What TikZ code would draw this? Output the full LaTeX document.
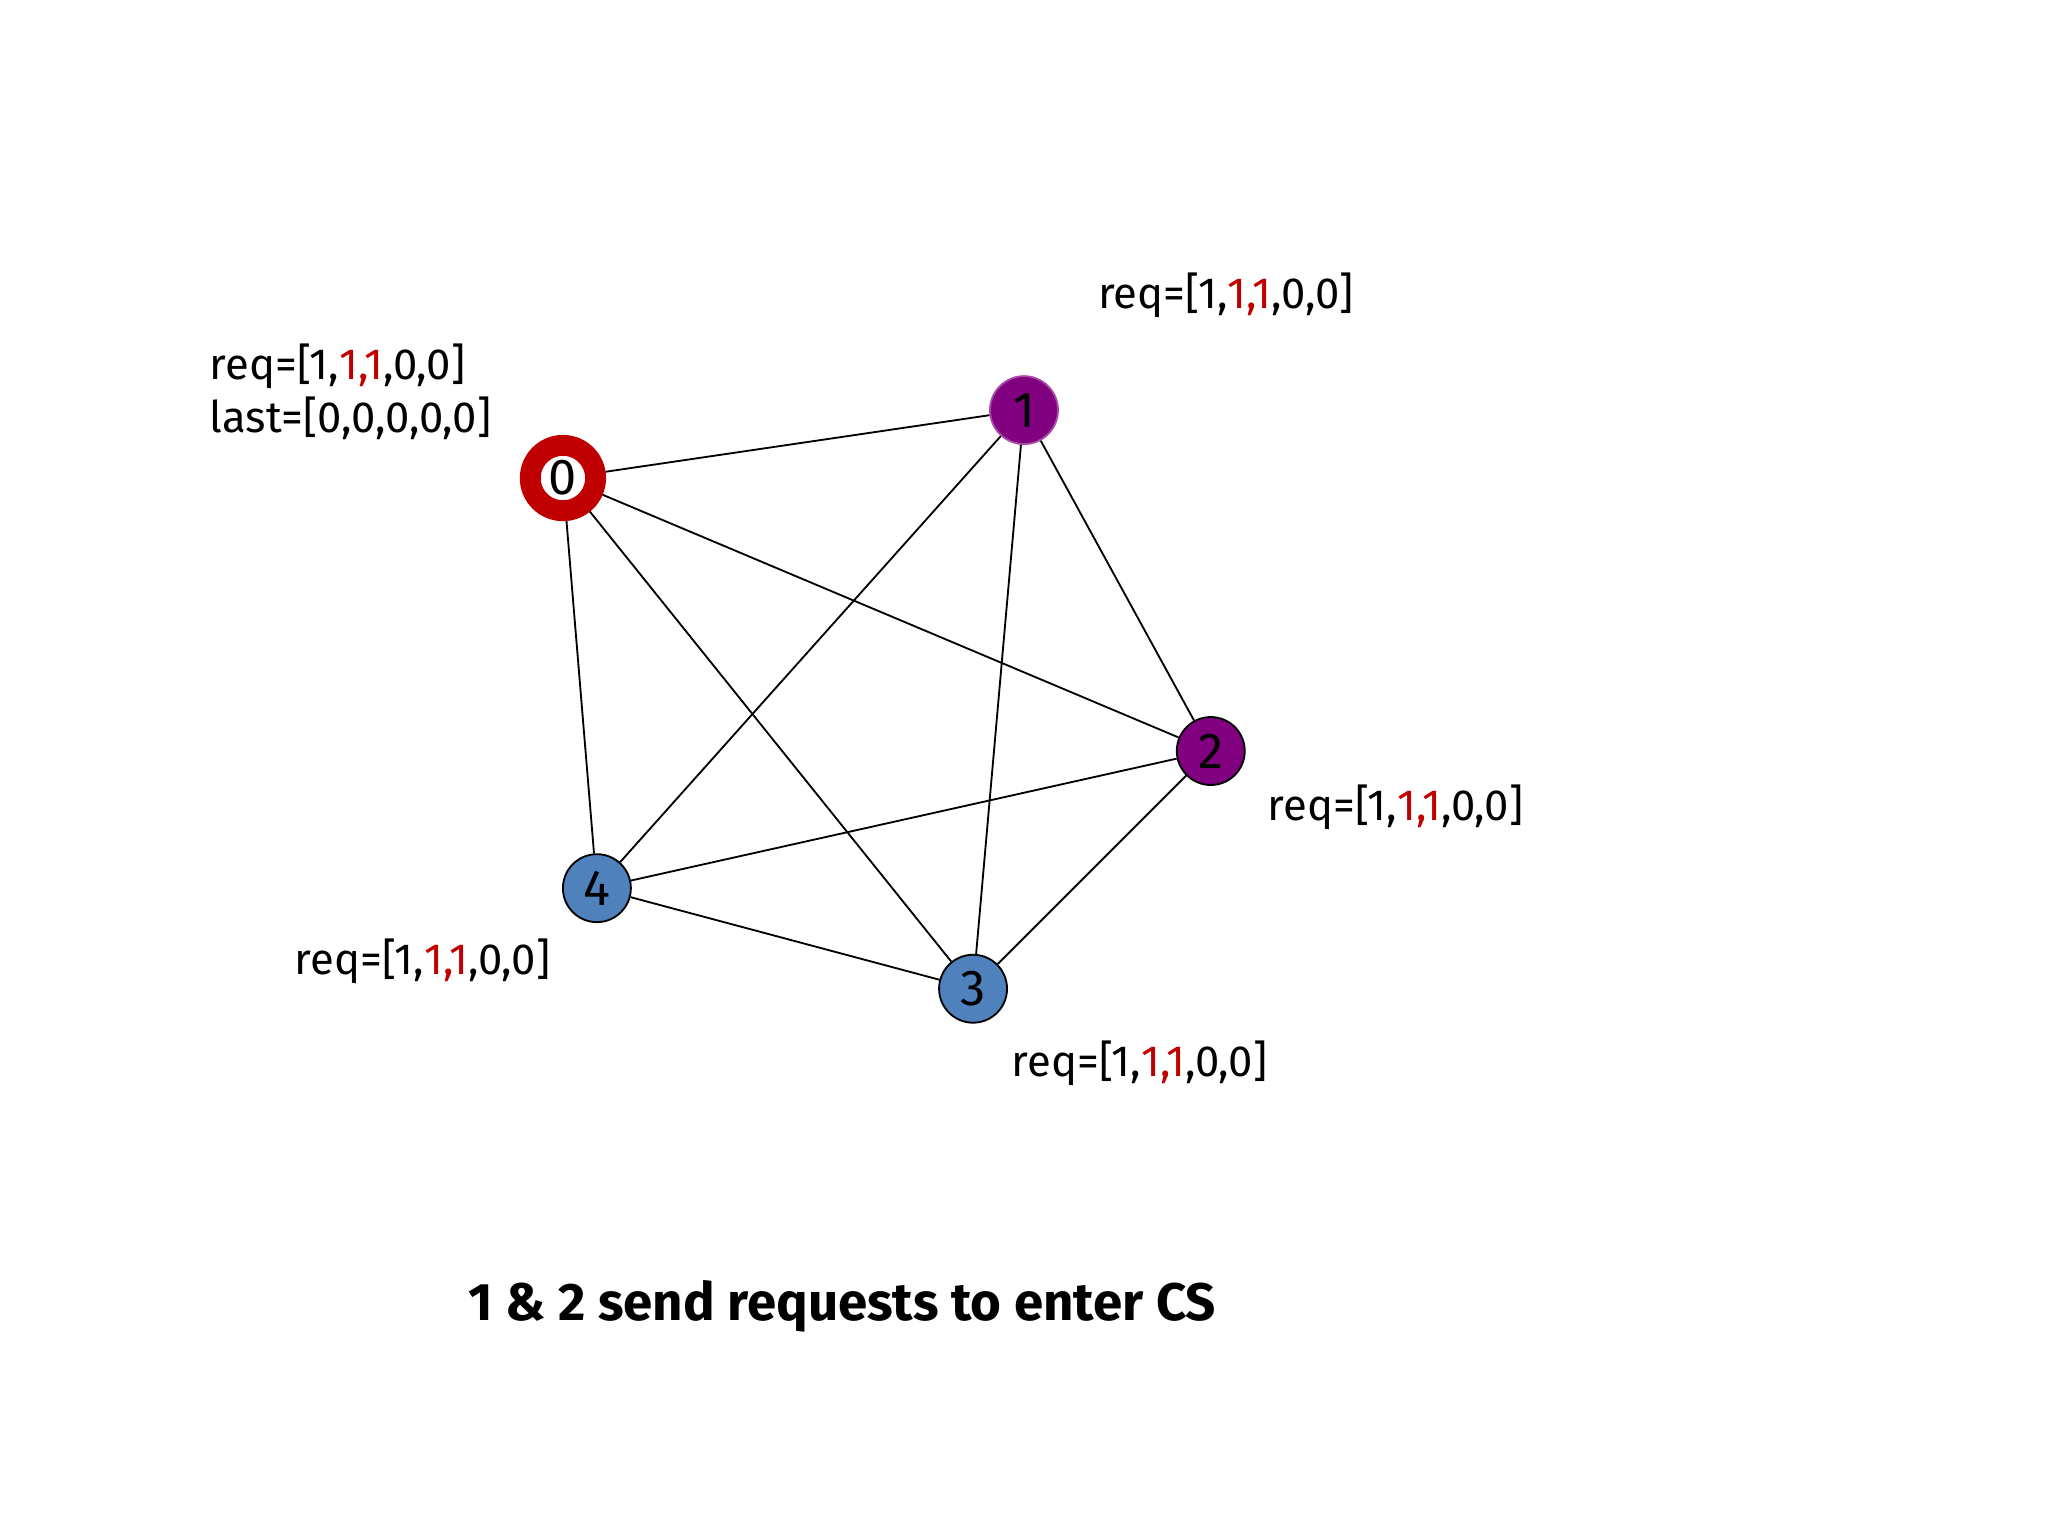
\documentclass[tikz,border=0pt]{standalone}
\usepackage{fontspec}
\setmainfont{Fira Sans}
\definecolor{pur}{RGB}{128,0,128}
\definecolor{blu}{RGB}{79,129,189}
\definecolor{rd}{RGB}{192,0,0}
\newcommand{\reqtxt}{req=[1,\textcolor{rd}{1,1},0,0]}
\begin{document}
\begin{tikzpicture}[x=0.01cm,y=-0.01cm,
  nd/.style={circle,draw,minimum size=0.52cm,inner sep=0pt,font=\fontsize{11}{11}\selectfont},
  lbl/.style={anchor=west,font=\fontsize{9.5}{11.5}\selectfont,inner sep=0pt,align=left}]
\path[use as bounding box] (0,0) rectangle (1568,1176);
\node[nd,draw=rd,line width=1.6mm,minimum size=0.5cm,fill=white] (n0) at (431,366) {0};
\node[nd,fill=pur,draw=pur!70!white] (n1) at (784,314) {1};
\node[nd,fill=pur] (n2) at (927,575) {2};
\node[nd,fill=blu] (n3) at (745,757) {3};
\node[nd,fill=blu] (n4) at (457,680) {4};
\foreach \a/\b in {n0/n1,n0/n2,n0/n3,n0/n4,n1/n2,n1/n3,n1/n4,n2/n3,n2/n4,n3/n4}
  \draw (\a) -- (\b);
\node[lbl] (t0) at (160,300) {\reqtxt\\last=[0,0,0,0,0]};
\node[lbl] (t1) at (840,226) {\reqtxt};
\node[lbl] (t2) at (970,618) {\reqtxt};
\node[lbl] (t4) at (225,736) {\reqtxt};
\node[lbl] (t3) at (774,814) {\reqtxt};
\node[font=\fontsize{11.5}{12}\selectfont\bfseries] (title) at (645,1000) {1 \& 2 send requests to enter CS};
\end{tikzpicture}
\end{document}
